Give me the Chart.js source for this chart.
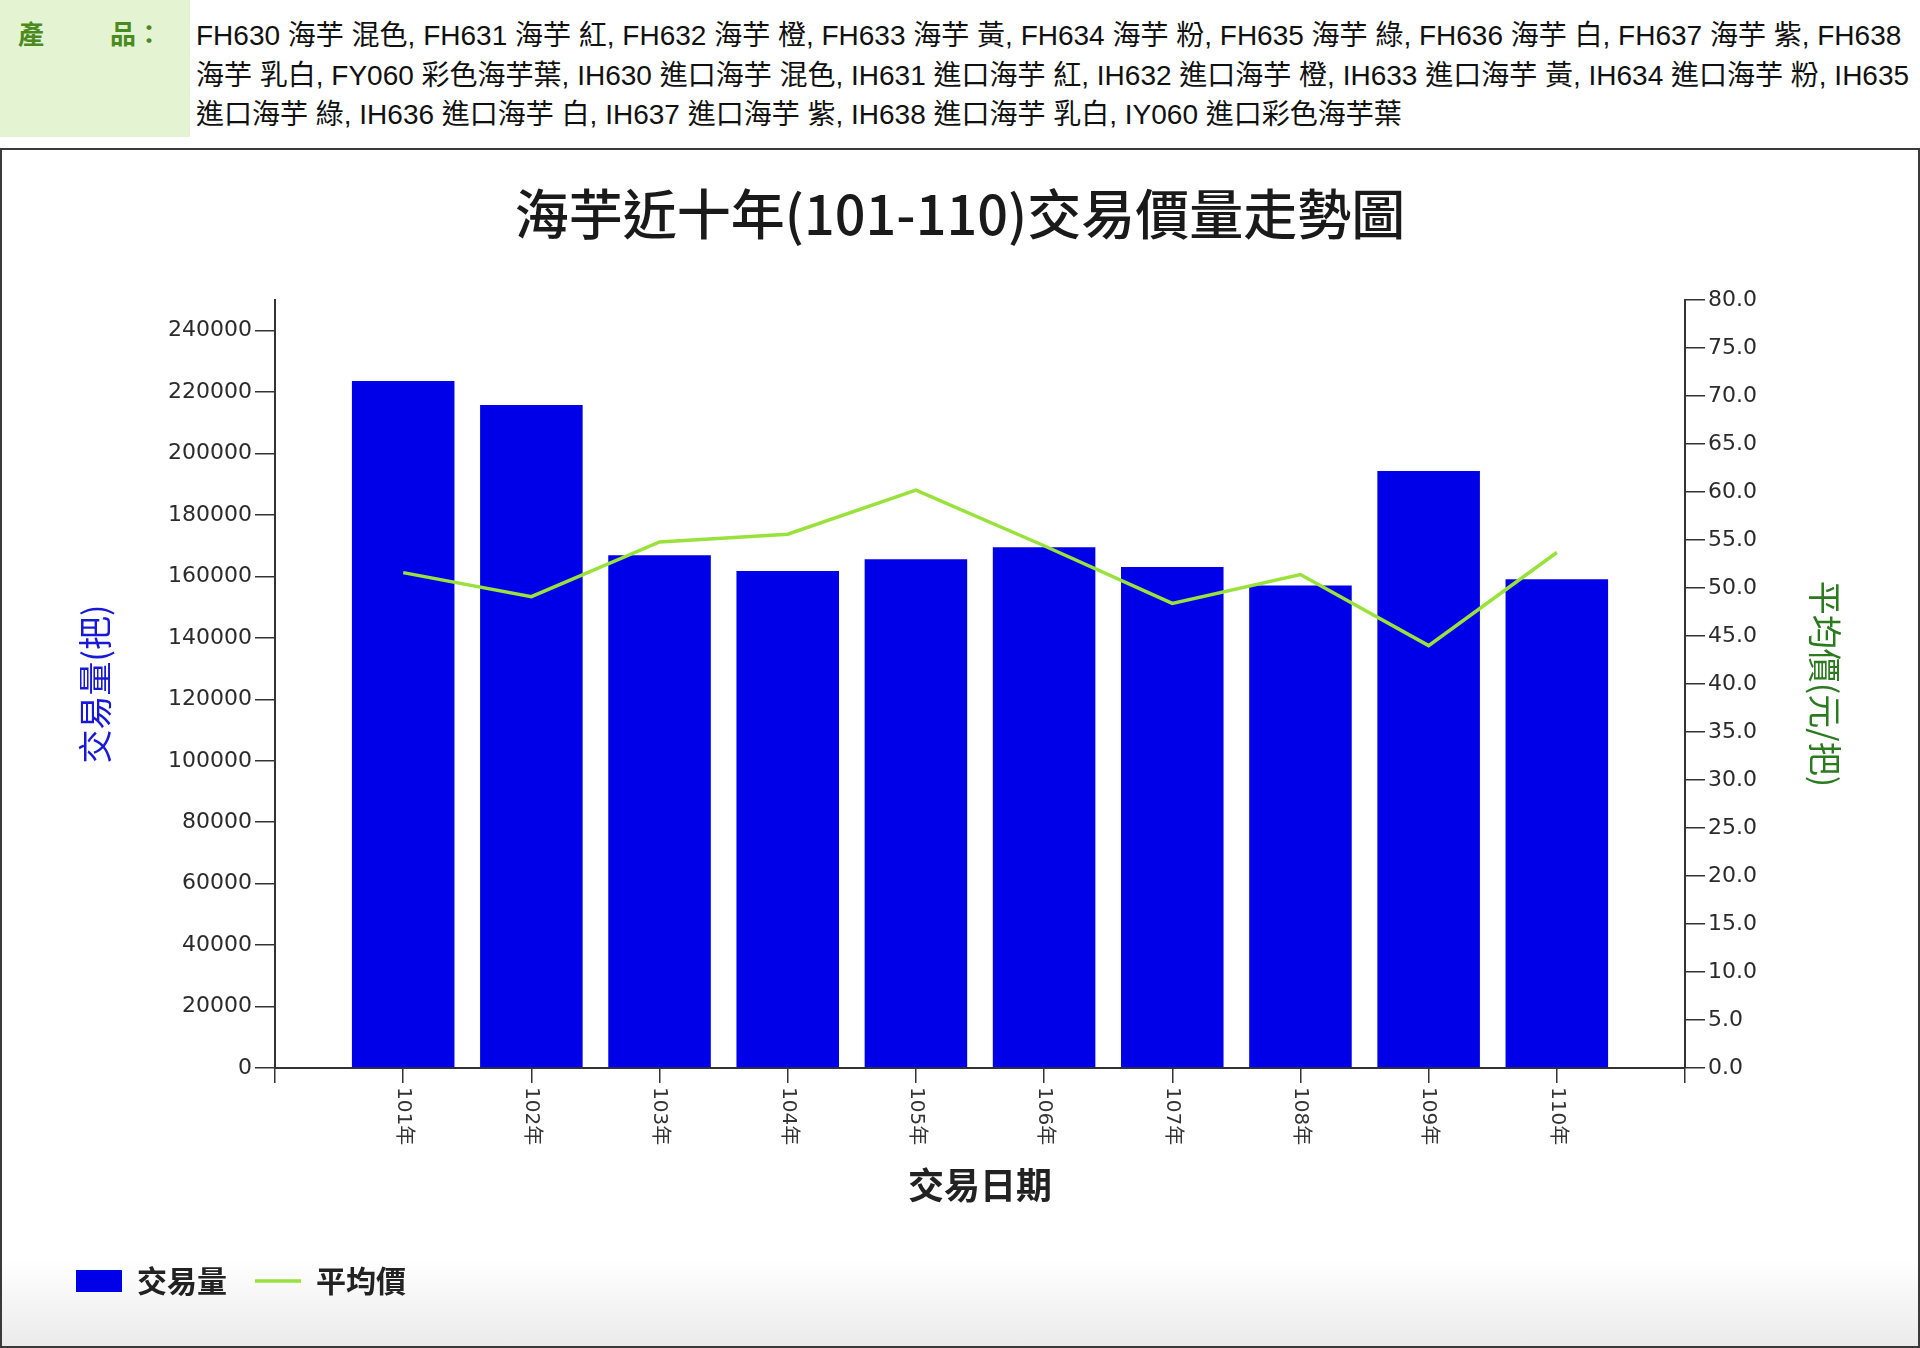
<!DOCTYPE html>
<html lang="zh-Hant">
<head>
<meta charset="utf-8">
<title>海芋近十年(101-110)交易價量走勢圖</title>
<script src="https://cdn.jsdelivr.net/npm/chart.js@4/dist/chart.umd.min.js"></script>
<style>
  html, body { margin: 0; padding: 0; background: #fff; }
  body { width: 1920px; height: 1348px; overflow: hidden; position: relative;
         font-family: "Liberation Sans", "Noto Sans CJK TC", sans-serif; }
  .prod { display: flex; height: 137px; }
  .prod-label { width: 190px; flex: none; background: #e4f4d2; color: #4b8a1e; font-weight: bold;
                font-size: 26px; line-height: 39.5px; padding: 16px 0 0 18px; box-sizing: border-box; }
  .prod-label .p2 { margin-left: 66px; }
  .prod-text { padding: 16px 0 0 6px; font-size: 28px; line-height: 39.5px; color: #111; }
  .prod-text div { white-space: nowrap; }
  .frame { position: absolute; top: 148px; left: 0; width: 1920px; height: 1200px; box-sizing: border-box;
           border: 2px solid #3a3a3a;
           background: linear-gradient(to bottom, #fff 0, #fff 1110px, #ebebeb 1196px); }
  .chart-box { position: relative; width: 1916px; height: 1196px; }
</style>
</head>
<body>
<div class="prod">
  <div class="prod-label"><span>產</span><span class="p2">品：</span></div>
  <div class="prod-text">
    <div>FH630 海芋 混色, FH631 海芋 紅, FH632 海芋 橙, FH633 海芋 黃, FH634 海芋 粉, FH635 海芋 綠, FH636 海芋 白, FH637 海芋 紫, FH638</div>
    <div>海芋 乳白, FY060 彩色海芋葉, IH630 進口海芋 混色, IH631 進口海芋 紅, IH632 進口海芋 橙, IH633 進口海芋 黃, IH634 進口海芋 粉, IH635</div>
    <div>進口海芋 綠, IH636 進口海芋 白, IH637 進口海芋 紫, IH638 進口海芋 乳白, IY060 進口彩色海芋葉</div>
  </div>
</div>
<div class="frame">
  <div class="chart-box"><canvas id="chart"></canvas></div>
</div>
<script>
const years = ['101年', '102年', '103年', '104年', '105年', '106年', '107年', '108年', '109年', '110年'];
const volume = [223600, 215800, 166900, 161800, 165600, 169500, 163100, 157100, 194300, 159100];
const avgPrice = [51.6, 49.1, 54.8, 55.6, 60.2, 54.4, 48.4, 51.4, 44.0, 53.7];
const volumeTicks = [0, 20000, 40000, 60000, 80000, 100000, 120000, 140000, 160000, 180000, 200000, 220000, 240000];

// one empty slot on each side, like the original plot
const xLabels = ['', ...years, ''];
const pad = arr => [null, ...arr, null];

const CJK = '"Noto Sans CJK TC", sans-serif';
const NUM = '"DejaVu Sans", "Noto Sans CJK TC", sans-serif';

// x labels read top-to-bottom (rotated clockwise), Chart.js only rotates the other way
const xLabelPlugin = {
  id: 'xLabels',
  afterDraw(chart) {
    const s = chart.scales.x;
    const ctx = chart.ctx;
    ctx.save();
    ctx.font = '20px ' + NUM;
    ctx.fillStyle = '#333';
    ctx.textAlign = 'left';
    ctx.textBaseline = 'middle';
    xLabels.forEach((lab, i) => {
      if (!lab) return;
      ctx.save();
      ctx.translate(s.getPixelForTick(i), s.top + 19);
      ctx.rotate(Math.PI / 2);
      ctx.fillText(lab, 0, 0);
      ctx.restore();
    });
    ctx.restore();
  }
};

const yGrid = { display: true, drawOnChartArea: false, drawTicks: true, tickLength: 20, color: '#333', lineWidth: 1.5, offset: false };
const xGrid = { ...yGrid, tickLength: 15 };

new Chart(document.getElementById('chart'), {
  type: 'bar',
  data: {
    labels: xLabels,
    datasets: [
      {
        type: 'bar',
        label: '交易量',
        data: pad(volume),
        yAxisID: 'y',
        backgroundColor: '#0000E8',
        borderWidth: 0,
        barPercentage: 0.8,
        categoryPercentage: 1.0,
        order: 2
      },
      {
        type: 'line',
        label: '平均價',
        data: pad(avgPrice),
        yAxisID: 'y1',
        borderColor: '#99E23C',
        backgroundColor: '#99E23C',
        borderWidth: 3.5,
        pointRadius: 0,
        tension: 0,
        order: 1
      }
    ]
  },
  options: {
    responsive: true,
    maintainAspectRatio: false,
    animation: false,
    layout: { padding: { left: 46, right: 46, top: 0, bottom: 40 } },
    plugins: {
      tooltip: { enabled: false },
      title: {
        display: true,
        text: '海芋近十年(101-110)交易價量走勢圖',
        color: '#1a1a1a',
        font: { family: CJK, size: 54, weight: '500', lineHeight: 1.2 },
        padding: { top: 31.6, bottom: 53.6 }
      },
      legend: {
        position: 'bottom',
        align: 'start',
        labels: {
          color: '#222',
          font: { family: CJK, size: 30, weight: 'bold' },
          usePointStyle: true,
          pointStyleWidth: 46,
          boxHeight: 22,
          padding: 28,
          generateLabels(chart) {
            const items = Chart.defaults.plugins.legend.labels.generateLabels(chart);
            items.sort((a, b) => a.datasetIndex - b.datasetIndex);
            items.forEach(it => {
              it.pointStyle = it.datasetIndex === 0 ? 'rect' : 'line';
              if (it.datasetIndex === 0) it.lineWidth = 0;
            });
            return items;
          }
        }
      }
    },
    scales: {
      x: {
        type: 'category',
        offset: false,
        grid: xGrid,
        border: { display: true, color: '#333', width: 2 },
        ticks: { display: false, autoSkip: false },
        title: {
          display: true,
          text: '交易日期',
          color: '#222',
          font: { family: CJK, size: 36, weight: 'bold' },
          padding: { top: 0, bottom: 31.4 }
        },
        afterFit(s) { s.height = 170; }
      },
      y: {
        position: 'left',
        min: 0,
        max: 250000,
        grid: yGrid,
        border: { display: true, color: '#333', width: 2 },
        afterBuildTicks(s) { s.ticks = volumeTicks.map(v => ({ value: v })); },
        ticks: {
          padding: 3,
          color: '#2b2b2b',
          font: { family: NUM, size: 22 },
          callback: v => String(v)
        },
        title: {
          display: true,
          text: '交易量(把)',
          color: '#1818D8',
          font: { family: CJK, size: 34 },
          padding: { top: 26.6, bottom: 0 }
        },
        afterFit(s) { s.width = 227; }
      },
      y1: {
        position: 'right',
        min: 0,
        max: 80,
        grid: yGrid,
        border: { display: true, color: '#333', width: 2 },
        ticks: {
          stepSize: 5,
          padding: 3,
          color: '#2b2b2b',
          font: { family: NUM, size: 22 },
          callback: v => v.toFixed(1)
        },
        title: {
          display: true,
          text: '平均價(元/把)',
          color: '#2A7A1E',
          font: { family: CJK, size: 34 },
          padding: { top: 26.6, bottom: 0 }
        },
        afterFit(s) { s.width = 187; }
      }
    }
  },
  plugins: [xLabelPlugin]
});
</script>
</body>
</html>
